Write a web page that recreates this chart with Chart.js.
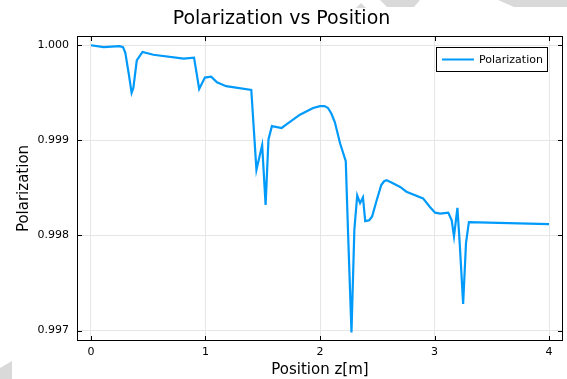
<!DOCTYPE html>
<html>
<head>
<meta charset="utf-8">
<script src="https://cdn.jsdelivr.net/npm/chart.js@4/dist/chart.umd.min.js"></script>
<style>
  html, body { margin: 0; padding: 0; background: #ffffff; }
  #wrap { width: 567px; height: 379px; position: relative; }
</style>
</head>
<body>
<div id="wrap"><canvas id="c" width="567" height="379"></canvas></div>
<script>
const chartTitle = "Polarization vs Position";
const xAxisTitle = "Position z[m]";
const yAxisTitle = "Polarization";
const seriesName = "Polarization";

const xTicks = [0, 1, 2, 3, 4];
const yTicks = [0.997, 0.998, 0.999, 1.000];

const positions = [0, 0.11, 0.25, 0.28, 0.30, 0.33, 0.355, 0.37, 0.40, 0.45, 0.545, 0.81, 0.90,
  0.945, 0.995, 1.05, 1.10, 1.18, 1.40, 1.445, 1.495, 1.525, 1.55,
  1.58, 1.665, 1.71, 1.825, 1.94, 2.00, 2.04, 2.07, 2.10, 2.13, 2.175, 2.225,
  2.245, 2.275, 2.30, 2.325, 2.35, 2.375, 2.395, 2.43, 2.455, 2.495,
  2.535, 2.56, 2.58, 2.62, 2.70, 2.755, 2.90, 2.96, 3.005, 3.05, 3.12, 3.15,
  3.17, 3.20, 3.22, 3.25, 3.275, 3.30, 4.0];

const polarization = [1.00000, 0.99998, 0.99999, 0.99998, 0.99992, 0.99970, 0.99950, 0.99955, 0.99984, 0.99993, 0.99990, 0.99986, 0.99987,
  0.99954, 0.99966, 0.99967, 0.99961, 0.99957, 0.99953, 0.99869, 0.99895, 0.99832, 0.99901,
  0.99915, 0.99913, 0.99917, 0.99927, 0.99934, 0.99936, 0.99936, 0.99934, 0.99928, 0.99919, 0.99897, 0.99878,
  0.99803, 0.99698, 0.99806, 0.99842, 0.99834, 0.99840, 0.99815, 0.99816, 0.99820, 0.99837,
  0.99853, 0.99857, 0.99858, 0.99856, 0.99851, 0.99846, 0.99839, 0.99830, 0.99824, 0.99823, 0.99824, 0.99816,
  0.99799, 0.99829, 0.99792, 0.99728, 0.99792, 0.99814, 0.99812];

const FONT = "'DejaVu Sans', 'Liberation Sans', sans-serif";
const LINE_COLOR = '#009AFA';

const points = positions.map((x, i) => ({ x: x, y: polarization[i] }));

const decorPlugin = {
  id: 'decor',
  beforeDraw(chart) {
    const ctx = chart.ctx;
    ctx.save();
    ctx.fillStyle = '#ffffff';
    ctx.fillRect(0, 0, chart.width, chart.height);
    ctx.fillStyle = '#d9d9d9';
    const polys = [
      [[356, 8], [361, 3], [366, 8]],
      [[380, 0], [420, 0], [414, 7], [387, 7]],
      [[498, 0], [567, 0], [567, 7], [514, 7]],
      [[0, 368], [12, 361], [12, 379], [0, 379]]
    ];
    polys.forEach(p => {
      ctx.beginPath();
      ctx.moveTo(p[0][0], p[0][1]);
      for (let i = 1; i < p.length; i++) ctx.lineTo(p[i][0], p[i][1]);
      ctx.closePath();
      ctx.fill();
    });
    ctx.restore();
  },
  afterDraw(chart) {
    const ctx = chart.ctx;
    const a = chart.chartArea;
    const xs = chart.scales.x, ys = chart.scales.y;
    ctx.save();
    ctx.strokeStyle = '#000000';
    ctx.lineWidth = 1;
    ctx.strokeRect(Math.round(a.left) + 0.5, Math.round(a.top) + 0.5,
      Math.round(a.right - a.left) - 1, Math.round(a.bottom - a.top) - 1);
    const tl = 5;
    ctx.beginPath();
    xTicks.forEach(v => {
      const px = Math.round(xs.getPixelForValue(v)) + 0.5;
      ctx.moveTo(px, a.bottom); ctx.lineTo(px, a.bottom - tl);
      ctx.moveTo(px, a.top); ctx.lineTo(px, a.top + tl);
    });
    yTicks.forEach(v => {
      const py = Math.round(ys.getPixelForValue(v)) + 0.5;
      ctx.moveTo(a.left, py); ctx.lineTo(a.left + tl, py);
      ctx.moveTo(a.right, py); ctx.lineTo(a.right - tl, py);
    });
    ctx.stroke();
    const bw = 111, bh = 24;
    const bx = Math.round(a.right) - 16 - bw, by = Math.round(a.top) + 11;
    ctx.fillStyle = '#ffffff';
    ctx.fillRect(bx, by, bw, bh);
    ctx.strokeStyle = '#000000';
    ctx.strokeRect(bx + 0.5, by + 0.5, bw, bh);
    ctx.strokeStyle = LINE_COLOR;
    ctx.lineWidth = 2;
    ctx.beginPath();
    ctx.moveTo(bx + 6, by + 12.5);
    ctx.lineTo(bx + 38, by + 12.5);
    ctx.stroke();
    ctx.fillStyle = '#000000';
    ctx.font = '11px ' + FONT;
    ctx.textBaseline = 'middle';
    ctx.textAlign = 'left';
    ctx.fillText(chart.data.datasets[0].label, bx + 43, by + 13);
    ctx.restore();
  }
};

new Chart(document.getElementById('c'), {
  type: 'line',
  data: {
    datasets: [{
      label: seriesName,
      data: points,
      borderColor: LINE_COLOR,
      borderWidth: 2.2,
      pointRadius: 0,
      tension: 0,
      fill: false
    }]
  },
  options: {
    responsive: false,
    animation: false,
    layout: { padding: { left: 0, right: 4, top: 0, bottom: 0 } },
    plugins: {
      legend: { display: false },
      tooltip: { enabled: false },
      title: {
        display: true,
        text: chartTitle,
        color: '#000000',
        font: { family: FONT, size: 19, weight: 'normal', lineHeight: 1.2 },
        padding: { top: 8, bottom: 5.2 }
      }
    },
    scales: {
      x: {
        type: 'linear',
        min: -0.122,
        max: 4.122,
        afterBuildTicks: (s) => { s.ticks = xTicks.map(v => ({ value: v })); },
        afterFit: (s) => { s.height = 38; },
        ticks: {
          color: '#000000',
          font: { family: FONT, size: 11 },
          padding: 5,
          maxRotation: 0,
          callback: (v) => String(v)
        },
        grid: { color: '#e6e6e6', lineWidth: 1, drawTicks: false },
        border: { display: false },
        title: {
          display: true,
          text: xAxisTitle,
          color: '#000000',
          font: { family: FONT, size: 15, lineHeight: 1.2 },
          padding: { top: 0, bottom: 0 }
        }
      },
      y: {
        type: 'linear',
        min: 0.99689,
        max: 1.0000976,
        afterBuildTicks: (s) => { s.ticks = yTicks.map(v => ({ value: v })); },
        afterFit: (s) => { s.width = 77; },
        ticks: {
          color: '#000000',
          font: { family: FONT, size: 11 },
          padding: 8,
          callback: (v) => Number(v).toFixed(3)
        },
        grid: { color: '#e6e6e6', lineWidth: 1, drawTicks: false },
        border: { display: false },
        title: {
          display: true,
          text: yAxisTitle,
          color: '#000000',
          font: { family: FONT, size: 15, lineHeight: 1.2 },
          padding: { top: 15, bottom: 0 }
        }
      }
    }
  },
  plugins: [decorPlugin]
});
</script>
</body>
</html>
